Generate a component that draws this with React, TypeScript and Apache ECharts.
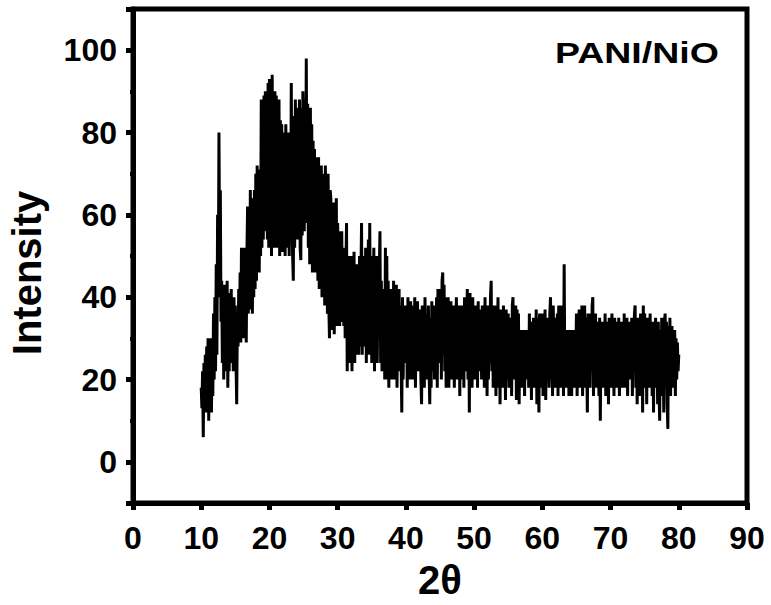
import React, { useEffect, useRef } from "react";
import * as echarts from "echarts";

// 2θ scan: starts at 10.0°, 0.1° step
const scanStart = 10;
const scanStep = 0.1;

// intensity, 10.0° – 19.9°
const band10 = [
  18, 13, 22, 6, 24, 12, 26, 14, 28, 12,
  30, 10, 28, 14, 30, 12, 29, 16, 36, 20,
  40, 22, 48, 26, 60, 40, 80, 50, 66, 34,
  44, 24, 42, 20, 43, 26, 40, 22, 44, 18,
  41, 22, 38, 26, 42, 24, 36, 22, 40, 25,
  38, 24, 14, 36, 28, 42, 30, 46, 29, 52,
  32, 50, 30, 52, 34, 48, 29, 51, 62, 36,
  58, 37, 66, 38, 64, 36, 60, 40, 66, 42,
  70, 44, 72, 48, 68, 46, 71, 50, 88, 52,
  86, 54, 89, 56, 90, 57, 85, 54, 92, 52,
];
// intensity, 20.0° – 29.9°
const band20 = [
  93, 56, 88, 50, 94, 54, 86, 52, 90, 55,
  89, 52, 84, 56, 88, 50, 83, 54, 82, 51,
  80, 52, 78, 50, 82, 54, 76, 52, 80, 50,
  78, 54, 92, 58, 50, 44, 84, 52, 88, 56,
  86, 54, 84, 56, 88, 52, 49, 86, 55, 90,
  82, 56, 86, 60, 98, 58, 87, 52, 84, 48,
  86, 50, 82, 46, 78, 50, 76, 46, 74, 48,
  72, 44, 74, 42, 70, 46, 72, 40, 68, 42,
  70, 38, 72, 40, 66, 36, 70, 38, 30, 66,
  64, 32, 60, 34, 63, 31, 58, 36, 64, 33,
];
// intensity, 30.0° – 39.9°
const band30 = [
  58, 34, 56, 33, 54, 36, 56, 34, 52, 33,
  50, 30, 46, 58, 22, 48, 26, 50, 24, 46,
  50, 22, 44, 28, 51, 24, 46, 30, 48, 26,
  46, 26, 50, 28, 44, 58, 26, 48, 30, 50,
  28, 52, 24, 48, 30, 54, 26, 58, 32, 50,
  24, 48, 28, 52, 22, 46, 30, 50, 24, 44,
  30, 46, 56, 24, 44, 22, 40, 28, 42, 20,
  52, 20, 50, 26, 44, 18, 40, 24, 42, 20,
  38, 22, 44, 20, 40, 24, 43, 18, 36, 26,
  42, 22, 38, 24, 12, 40, 20, 36, 26, 38,
];
// intensity, 40.0° – 49.9°
const band40 = [
  24, 38, 18, 40, 22, 34, 20, 39, 26, 36,
  20, 38, 24, 40, 18, 35, 22, 39, 26, 36,
  22, 37, 20, 14, 38, 24, 36, 18, 40, 26,
  20, 36, 24, 38, 22, 14, 35, 18, 39, 26,
  22, 38, 20, 36, 24, 40, 18, 42, 26, 40,
  24, 42, 20, 44, 46, 26, 43, 22, 40, 18,
  38, 24, 40, 18, 36, 22, 39, 20, 35, 26,
  38, 18, 36, 24, 40, 20, 34, 22, 38, 16,
  36, 20, 38, 24, 35, 18, 40, 22, 37, 26,
  42, 20, 38, 12, 41, 22, 36, 18, 40, 24,
];
// intensity, 50.0° – 59.9°
const band50 = [
  36, 20, 38, 24, 35, 18, 39, 22, 37, 26,
  34, 20, 38, 24, 36, 18, 40, 22, 35, 16,
  38, 20, 36, 24, 40, 44, 22, 38, 18, 36,
  24, 38, 16, 36, 22, 40, 18, 35, 14, 37,
  22, 36, 18, 38, 24, 35, 15, 37, 20, 34,
  36, 18, 34, 22, 35, 16, 38, 40, 20, 36,
  22, 38, 15, 37, 20, 36, 14, 32, 24, 30,
  18, 32, 22, 30, 16, 32, 24, 31, 20, 32,
  18, 36, 22, 34, 15, 33, 24, 35, 18, 34,
  20, 37, 14, 35, 22, 12, 36, 18, 34, 24,
];
// intensity, 60.0° – 69.9°
const band60 = [
  36, 16, 34, 22, 37, 15, 33, 20, 35, 24,
  18, 36, 40, 20, 34, 16, 38, 22, 35, 18,
  34, 20, 36, 16, 38, 24, 35, 18, 38, 22,
  36, 16, 48, 20, 32, 18, 30, 24, 32, 16,
  30, 20, 32, 16, 31, 22, 32, 18, 30, 24,
  36, 16, 34, 22, 37, 18, 35, 20, 38, 16,
  36, 22, 38, 18, 35, 24, 12, 36, 20, 34,
  18, 36, 22, 38, 40, 16, 34, 24, 36, 18,
  34, 20, 32, 16, 35, 10, 33, 22, 34, 18,
  32, 20, 36, 16, 34, 22, 33, 14, 35, 20,
];
// intensity, 70.0° – 79.9°
const band70 = [
  34, 18, 36, 22, 33, 16, 35, 20, 34, 18,
  32, 20, 35, 16, 33, 22, 34, 18, 32, 20,
  36, 18, 34, 22, 35, 16, 33, 20, 34, 24,
  20, 35, 16, 33, 22, 36, 38, 18, 34, 14,
  35, 20, 33, 16, 36, 22, 34, 12, 38, 18,
  36, 20, 34, 14, 35, 22, 33, 18, 36, 20,
  32, 16, 34, 12, 33, 18, 35, 20, 32, 14,
  34, 18, 10, 32, 16, 35, 20, 33, 12, 34,
  36, 18, 34, 14, 8, 33, 20, 35, 16, 32,
  33, 18, 30, 22, 32, 16, 30, 20, 29, 22,
];
// intensity at 80.0°
const band80 = [26];

const xTicks = [0, 10, 20, 30, 40, 50, 60, 70, 80, 90];
const yRange = [-10, 110];
const yLabelRange = [0, 100];

const FONT = "'Liberation Sans', Arial, Helvetica, sans-serif";

export default function App() {
  const ref = useRef<HTMLDivElement>(null);
  useEffect(() => {
    document.body.style.margin = "0";
    if (!ref.current) return;
    const chart = echarts.init(ref.current, null, { renderer: "svg" });
    const intensity = [
      ...band10, ...band20, ...band30, ...band40,
      ...band50, ...band60, ...band70, ...band80,
    ];
    const data = intensity.map((v, i) => [
      Math.round((scanStart + i * scanStep) * 10) / 10,
      v,
    ]);
    const labelStyle = {
      color: "#000",
      fontFamily: FONT,
      fontWeight: "bold" as const,
      fontSize: 32,
    };
    chart.setOption({
      animation: false,
      backgroundColor: "#fff",
      graphic: [
        {
          type: "text",
          x: 555,
          y: 37,
          scaleX: 1.25,
          style: {
            text: "PANI/NiO",
            fill: "#000",
            font: `bold 30px ${FONT}`,
          },
        },
      ],
      grid: {
        left: 133,
        right: 24,
        top: 9,
        bottom: 102,
        show: true,
        borderColor: "#000",
        borderWidth: 5,
        outerBoundsMode: "none",
        containLabel: false,
      },
      xAxis: {
        type: "value",
        min: xTicks[0],
        max: xTicks[xTicks.length - 1],
        interval: 10,
        name: "2θ",
        nameLocation: "middle",
        nameGap: 57,
        nameTextStyle: { color: "#000", fontFamily: FONT, fontWeight: "bold", fontSize: 40 },
        axisLine: { show: true, onZero: false, lineStyle: { color: "#000", width: 5 } },
        axisTick: { show: true, length: 7, lineStyle: { color: "#000", width: 5 } },
        minorTick: { show: true, splitNumber: 2, length: 3, lineStyle: { color: "#000", width: 4 } },
        splitLine: { show: false },
        minorSplitLine: { show: false },
        axisLabel: { ...labelStyle, margin: 19 },
      },
      yAxis: [
        {
          type: "value",
          min: yRange[0],
          max: yRange[1],
          splitNumber: 6,
          name: "Intensity",
          nameLocation: "middle",
          nameGap: 86,
          nameRotate: 90,
          nameTextStyle: {
            color: "#000",
            fontFamily: FONT,
            fontWeight: "bold",
            fontSize: 40,
            padding: [0, 34, 0, 0],
          },
          axisLine: { show: true, onZero: false, lineStyle: { color: "#000", width: 5 } },
          axisTick: { show: true, length: 7, lineStyle: { color: "#000", width: 5 } },
          axisLabel: {
            ...labelStyle,
            margin: 16,
            formatter: (v: number) =>
              v < yLabelRange[0] || v > yLabelRange[1] ? "" : String(v),
          },
          splitLine: { show: false },
        },
        {
          type: "value",
          min: yRange[0],
          max: yRange[1],
          interval: 20,
          position: "left",
          axisLine: { show: false, onZero: false },
          axisTick: { show: true, length: 3, lineStyle: { color: "#000", width: 4 } },
          axisLabel: { show: false },
          splitLine: { show: false },
        },
      ],
      series: [
        {
          type: "line",
          data,
          showSymbol: false,
          symbol: "none",
          lineStyle: { color: "#000", width: 3 },
          yAxisIndex: 0,
        },
      ],
    });
    return () => chart.dispose();
  }, []);
  return <div ref={ref} style={{ width: 771, height: 605 }} />;
}
